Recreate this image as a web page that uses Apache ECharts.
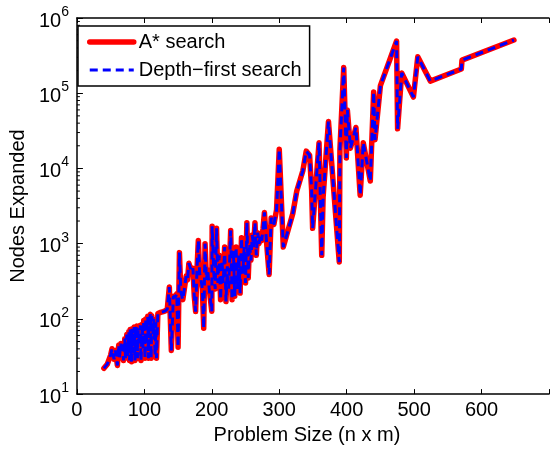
<!DOCTYPE html>
<html>
<head>
<meta charset="utf-8">
<script src="https://cdn.jsdelivr.net/npm/echarts@6/dist/echarts.min.js"></script>
<style>
  html, body { margin: 0; padding: 0; background: #ffffff; }
  #chart { width: 552px; height: 450px; }
</style>
</head>
<body>
<div id="chart"></div>
<script>
// problem size (n x m)
const problemSize = [
    40, 45, 50, 52, 55, 57,
    60, 62, 63, 65, 66, 68, 69, 71, 72, 74, 75, 77, 78, 79, 81, 82, 83, 85, 86, 87, 89, 90,
    91, 93, 94, 95, 97, 98, 99, 101, 102, 103, 105, 106, 107, 109, 110, 111, 113, 114, 116, 117, 118, 120,
    121, 124, 128, 131, 134,
    137, 140, 143, 146, 148, 150, 152, 154, 157, 159, 162, 164, 166, 168, 170, 172, 174, 176, 178, 180,
    182, 184, 186, 188, 190, 192, 194, 196, 198, 200, 200.5, 203, 205, 207, 209, 211, 213, 215, 217, 219,
    221, 223, 225, 228, 230, 232, 234, 236, 238, 240, 242, 244, 246, 248, 250, 252, 254, 256, 258, 260,
    262, 264, 266, 268, 270, 272, 274, 276, 278, 281, 285, 288, 292, 296, 300, 306, 320, 326, 335, 340,
    345, 348, 349.5, 359, 363, 365, 373, 389, 390, 395.6, 399.5, 401, 405.6, 413.7, 420, 424.6, 435, 440, 442, 450,
    474, 475.5, 481.6, 499, 505.4, 524, 570, 571, 648
];

// nodes expanded (both searches expand the same nodes)
const nodesExpanded = [
    22, 25, 33, 40, 29, 38,
    24, 45, 30, 47, 38, 46, 28, 55, 30, 62, 32, 68, 28, 72, 27, 74, 35, 78, 28, 70, 80, 30,
    75, 45, 82, 28, 85, 40, 95, 30, 100, 45, 108, 30, 95, 115, 30, 110, 60, 100, 32, 90, 30, 118,
    120, 122, 125, 128, 135,
    265, 38, 200, 195, 215, 42, 760, 230, 180, 170, 370, 330, 550, 480, 420, 470, 200, 125, 450, 1100,
    400, 330, 250, 75, 1000, 330, 450, 260, 180, 126, 1700, 400, 250, 1600, 300, 700, 180, 600, 300, 900,
    170, 500, 250, 1500, 180, 800, 200, 900, 250, 700, 220, 1200, 400, 900, 300, 1900, 350, 1000, 600, 1300,
    900, 1900, 700, 1400, 1000, 1300, 1100, 1600, 2600, 1100, 390, 2200, 1800, 2800, 18000, 900, 2500, 5000, 9300, 17000,
    15000, 5200, 1600, 22000, 700, 4100, 42000, 570, 18000, 220000, 13800, 60000, 18600, 35000, 4400, 22000, 6800, 104000, 24000, 126000,
    495000, 33600, 186000, 89000, 305000, 145000, 210000, 275000, 510000
];

const seriesNames = ['A* search', 'Depth\u2212first search'];
const xTicks = { min: 0, max: 700, step: 100 };
const yDecades = [10, 100, 1000, 10000, 100000, 1000000];

// minor ticks 2..9 inside each decade
const minorTicks = [];
for (let i = 0; i < yDecades.length - 1; i++) {
    for (let k = 2; k <= 9; k++) {
        minorTicks.push([0, k * yDecades[i]]);
    }
}

const points = problemSize.map((x, i) => [x, nodesExpanded[i]]);

const redLine = { color: '#ff0000', width: 5.5, cap: 'round', join: 'round' };
const blueLine = { color: '#0000ff', width: 3, type: [8, 5] };

const chart = echarts.init(document.getElementById('chart'));

const tickStyle = { show: true, inside: true, length: 5, lineStyle: { color: '#000', width: 1 } };
const lineAxis = { show: true, lineStyle: { color: '#000', width: 1.5 } };

const option = {
    animation: false,
    backgroundColor: '#ffffff',
    textStyle: { fontFamily: 'Liberation Sans, Arial, sans-serif', color: '#000' },
    grid: { left: 72, right: -10, top: 18, bottom: 51 },
    legend: {
        data: [
            { name: seriesNames[0], lineStyle: redLine },
            { name: seriesNames[1], lineStyle: blueLine }
        ],
        orient: 'vertical',
        left: 78,
        top: 26,
        itemWidth: 44,
        itemHeight: 14,
        itemGap: 8,
        padding: [6, 8, 6, 9],
        borderColor: '#000',
        borderWidth: 1.5,
        borderRadius: 0,
        backgroundColor: '#fff',
        itemStyle: { opacity: 0 },
        textStyle: { fontSize: 20, color: '#000' }
    },
    xAxis: [
        {
            type: 'value',
            position: 'bottom',
            min: xTicks.min,
            max: xTicks.max,
            interval: xTicks.step,
            axisLine: lineAxis,
            axisTick: tickStyle,
            splitLine: { show: false },
            axisLabel: {
                fontSize: 20, color: '#000', margin: 6,
                formatter: v => (v >= 700 ? '' : String(v))
            },
            name: 'Problem Size (n x m)',
            nameLocation: 'middle',
            nameGap: 28,
            nameTextStyle: { fontSize: 20, color: '#000', padding: [0, 12, 0, 0] }
        },
        {
            type: 'value',
            position: 'top',
            min: xTicks.min,
            max: xTicks.max,
            interval: xTicks.step,
            axisLine: lineAxis,
            axisTick: tickStyle,
            axisLabel: { show: false },
            splitLine: { show: false }
        }
    ],
    yAxis: [
        {
            type: 'log',
            logBase: 10,
            min: 10,
            max: 1000000,
            axisLine: lineAxis,
            axisTick: tickStyle,
            splitLine: { show: false },
            axisLabel: {
                margin: 8,
                formatter: v => '{b|10}{e|' + Math.round(Math.log10(v)) + '}',
                rich: {
                    b: { fontSize: 20, color: '#000', lineHeight: 26, verticalAlign: 'bottom' },
                    e: { fontSize: 14, color: '#000', lineHeight: 14, verticalAlign: 'top' }
                }
            },
            name: 'Nodes Expanded',
            nameLocation: 'middle',
            nameRotate: 90,
            nameGap: 44,
            nameTextStyle: { fontSize: 20, color: '#000' }
        },
        {
            type: 'log',
            logBase: 10,
            min: 10,
            max: 1000000,
            position: 'right',
            offset: -6,
            axisLine: { show: false },
            axisTick: { show: true, inside: true, length: 4, lineStyle: { color: '#000', width: 1 } },
            axisLabel: { show: false },
            splitLine: { show: false }
        }
    ],
    series: [
        {
            type: 'custom',
            silent: true,
            xAxisIndex: 0,
            yAxisIndex: 0,
            data: minorTicks,
            renderItem: (params, api) => {
                const p = api.coord([api.value(0), api.value(1)]);
                return {
                    type: 'line',
                    shape: { x1: p[0], y1: p[1], x2: p[0] + 3, y2: p[1] },
                    style: { stroke: '#000', lineWidth: 1 }
                };
            }
        },
        {
            name: seriesNames[0],
            type: 'line',
            data: points,
            showSymbol: false,
            symbol: 'none',
            lineStyle: redLine,
            itemStyle: { color: '#ff0000' }
        },
        {
            name: seriesNames[1],
            type: 'line',
            data: points,
            showSymbol: false,
            symbol: 'none',
            lineStyle: blueLine,
            itemStyle: { color: '#0000ff' }
        }
    ]
};

chart.setOption(option);
</script>
</body>
</html>
